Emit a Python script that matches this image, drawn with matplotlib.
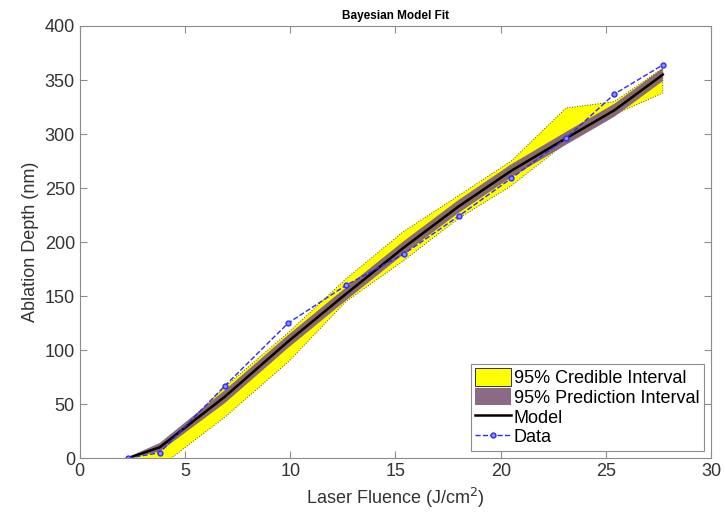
import numpy as np
import matplotlib
matplotlib.use("Agg")
from matplotlib import pyplot as plt

# ---------- Values ----------
fluence = [2.3, 3.8, 6.9, 9.9, 12.65, 15.4, 18.0, 20.5, 23.1, 25.4, 27.7]
depth = [0, 5, 67, 125, 160, 189, 224, 259, 296, 337, 364]

model = [0, 10, 57, 108, 152, 195, 233, 266, 296, 322, 355]

ci_lower = [0, -8, 38, 89, 145, 183, 222, 252, 292, 318, 338]
ci_upper = [0, 8, 66, 116, 166, 210, 243, 275, 324, 330, 361]

pi_lower = [0, 6, 51, 102, 146, 189, 227, 260, 290, 316, 349]
pi_upper = [1, 14, 63, 114, 158, 201, 239, 272, 302, 328, 361]

plt.rcParams['font.family'] = ['Liberation Sans', 'DejaVu Sans']

fig = plt.figure(figsize=(7.25, 5.2), dpi=100)
ax = fig.add_axes([0.110, 0.119, 0.871, 0.831])

ax.fill_between(fluence, ci_lower, ci_upper, facecolor='#ffff00',
                edgecolor='#555500', linewidth=0.7, linestyle=':',
                label='95% Credible Interval')
ax.fill_between(fluence, pi_lower, pi_upper, facecolor='#7e5a78',
                edgecolor='none', alpha=0.9, label='95% Prediction Interval')
ax.plot(fluence, model, color='black', linewidth=1.8, label='Model')
ax.plot(fluence, depth, color='#2a2aff', linestyle='--', linewidth=1.0,
        marker='o', markersize=3.5, markerfacecolor='#9090ff',
        markeredgecolor='#2a2aff', label='Data')

ax.set_xlim(0, 30)
ax.set_ylim(0, 400)
ax.set_xticks(np.arange(0, 31, 5))
ax.set_yticks(np.arange(0, 401, 50))

for s in ax.spines.values():
    s.set_color('#8c8c8c')
ax.tick_params(direction='in', top=True, right=True, length=5,
               color='#8c8c8c', labelsize=13, labelcolor='#333333')

ax.set_xlabel('Laser Fluence (J/cm$^2$)', fontsize=13, color='#333333')
ax.set_ylabel('Ablation Depth (nm)', fontsize=13, color='#333333')
ax.set_title('Bayesian Model Fit', fontsize=8.5, fontweight='bold', pad=5)

leg = ax.legend(loc='lower right', fontsize=13, handlelength=2.0,
                handleheight=1.1, handletextpad=0.15, labelspacing=0.05,
                borderpad=0.25, fancybox=False, framealpha=1,
                edgecolor='#8c8c8c', borderaxespad=0.4)
leg.get_frame().set_linewidth(0.8)
leg.legend_handles[0].set_edgecolor('#333333')
leg.legend_handles[0].set_linestyle('-')

fig.savefig('out.png', dpi=100)
